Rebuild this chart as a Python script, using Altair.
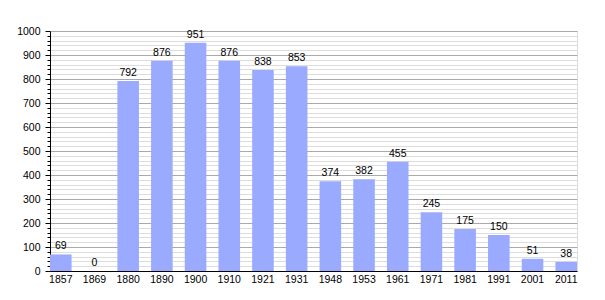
import altair as alt
import pandas as pd

years = ["1857", "1869", "1880", "1890", "1900", "1910", "1921", "1931",
         "1948", "1953", "1961", "1971", "1981", "1991", "2001", "2011"]
population = [69, 0, 792, 876, 951, 876, 838, 853, 374, 382, 455, 245, 175, 150, 51, 38]

df = pd.DataFrame({"year": years, "pop": population})

FONT = "Liberation Sans"
y_ticks = list(range(0, 1001, 20))

base = alt.Chart(df).encode(
    x=alt.X("year:N", sort=years, title=None,
            scale=alt.Scale(paddingInner=0.36, paddingOuter=0),
            axis=alt.Axis(labelAngle=0, ticks=False, labelFont=FONT, labelFontSize=10.5,
                          labelColor="black", domainColor="black", labelPadding=3,
                          grid=False)),
    y=alt.Y("pop:Q", title=None,
            scale=alt.Scale(domain=[0, 1000], nice=False),
            axis=alt.Axis(values=y_ticks, format="d",
                          labelExpr="datum.value % 100 === 0 ? datum.label : ''",
                          labelFont=FONT, labelFontSize=10.5, labelColor="black",
                          domainColor="black", tickColor="black",
                          tickSize={"condition": {"test": "datum.value % 100 === 0", "value": 5}, "value": 3},
                          gridColor={"condition": {"test": "datum.value % 100 === 0", "value": "#aaaaaa"}, "value": "#dddddd"},
                          labelPadding=5, grid=True)),
)

bars = base.mark_bar(color="#99aaff")
labels = base.mark_text(baseline="alphabetic", dy=-5, font=FONT, fontSize=10.5, color="black").encode(
    text="pop:Q")

chart = (bars + labels).properties(
    width=527, height=240,
    autosize=alt.AutoSizeParams(type="none"),
    padding={"left": 50, "top": 31, "right": 28, "bottom": 29},
).configure_view(strokeWidth=0).configure(background="white")

chart.save("out.html", embed_options={"renderer": "svg", "actions": False})
